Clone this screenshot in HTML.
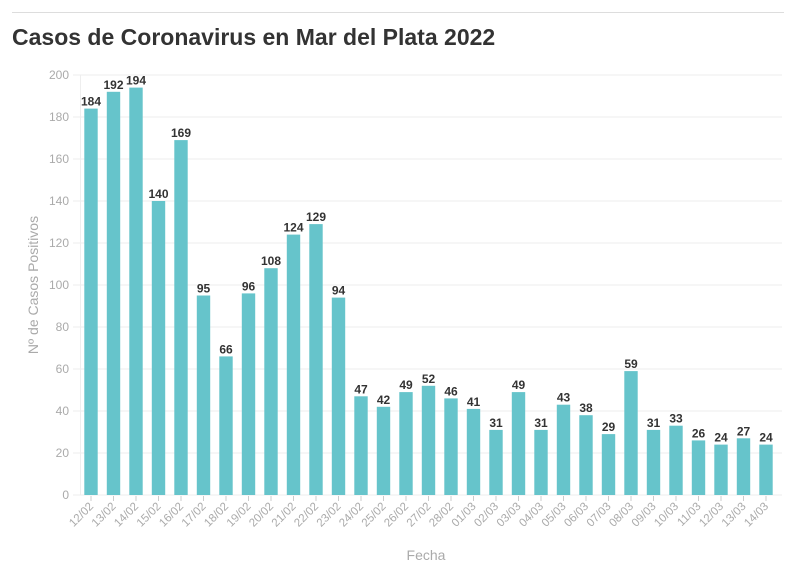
<!DOCTYPE html>
<html><head><meta charset="utf-8"><style>
body{margin:0;background:#fff;width:796px;height:575px;overflow:hidden;font-family:"Liberation Sans",sans-serif}
.b{fill:#66c4cb}.v{font-size:12px;font-weight:bold;fill:#333;text-anchor:middle}
.x{font-size:11.5px;fill:#aaa;text-anchor:end}
.y{font-size:12px;fill:#aaa;text-anchor:end}
.g{stroke:#eee}
</style></head><body>
<svg width="796" height="575" xmlns="http://www.w3.org/2000/svg" font-family="Liberation Sans, sans-serif">
<line x1="12" y1="12.5" x2="784" y2="12.5" stroke="#ddd"/>
<text x="12" y="45" font-size="23" font-weight="bold" fill="#333">Casos de Coronavirus en Mar del Plata 2022</text>
<line class="g" x1="73" x2="782" y1="495" y2="495"/><text class="y" x="69" y="499">0</text>
<line class="g" x1="73" x2="782" y1="453" y2="453"/><text class="y" x="69" y="457">20</text>
<line class="g" x1="73" x2="782" y1="411" y2="411"/><text class="y" x="69" y="415">40</text>
<line class="g" x1="73" x2="782" y1="369" y2="369"/><text class="y" x="69" y="373">60</text>
<line class="g" x1="73" x2="782" y1="327" y2="327"/><text class="y" x="69" y="331">80</text>
<line class="g" x1="73" x2="782" y1="285" y2="285"/><text class="y" x="69" y="289">100</text>
<line class="g" x1="73" x2="782" y1="243" y2="243"/><text class="y" x="69" y="247">120</text>
<line class="g" x1="73" x2="782" y1="201" y2="201"/><text class="y" x="69" y="205">140</text>
<line class="g" x1="73" x2="782" y1="159" y2="159"/><text class="y" x="69" y="163">160</text>
<line class="g" x1="73" x2="782" y1="117" y2="117"/><text class="y" x="69" y="121">180</text>
<line class="g" x1="73" x2="782" y1="75" y2="75"/><text class="y" x="69" y="79">200</text>
<line class="g" x1="80.5" x2="80.5" y1="75" y2="495"/>
<text transform="translate(38,285) rotate(-90)" text-anchor="middle" font-size="14" fill="#aaa">Nº de Casos Positivos</text>
<text x="426" y="560" text-anchor="middle" font-size="14" fill="#aaa">Fecha</text>
<g id="bars"></g>
</svg>
<script>
(function(){
var v=[184,192,194,140,169,95,66,96,108,124,129,94,47,42,49,52,46,41,31,49,31,43,38,29,59,31,33,26,24,27,24];
var d=["12/02","13/02","14/02","15/02","16/02","17/02","18/02","19/02","20/02","21/02","22/02","23/02","24/02","25/02","26/02","27/02","28/02","01/03","02/03","03/03","04/03","05/03","06/03","07/03","08/03","09/03","10/03","11/03","12/03","13/03","14/03"];
var NS="http://www.w3.org/2000/svg";
var g=document.getElementById("bars");
function el(n,a,t){var e=document.createElementNS(NS,n);for(var p in a)e.setAttribute(p,a[p]);if(t!=null)e.textContent=t;g.appendChild(e);}
for(var i=0;i<v.length;i++){var cx=91+i*22.5,h=v[i]*2.1,y=495-h;
el("rect",{x:cx-6.7,y:y,width:13.4,height:h,"class":"b"});
el("text",{x:cx,y:y-3,"class":"v"},String(v[i]));
el("line",{x1:cx,x2:cx,y1:496,y2:501,stroke:"#ccc"});
el("text",{transform:"translate("+(cx+3)+",507) rotate(-45)","class":"x"},d[i]);}
})();
</script>
</body></html>
